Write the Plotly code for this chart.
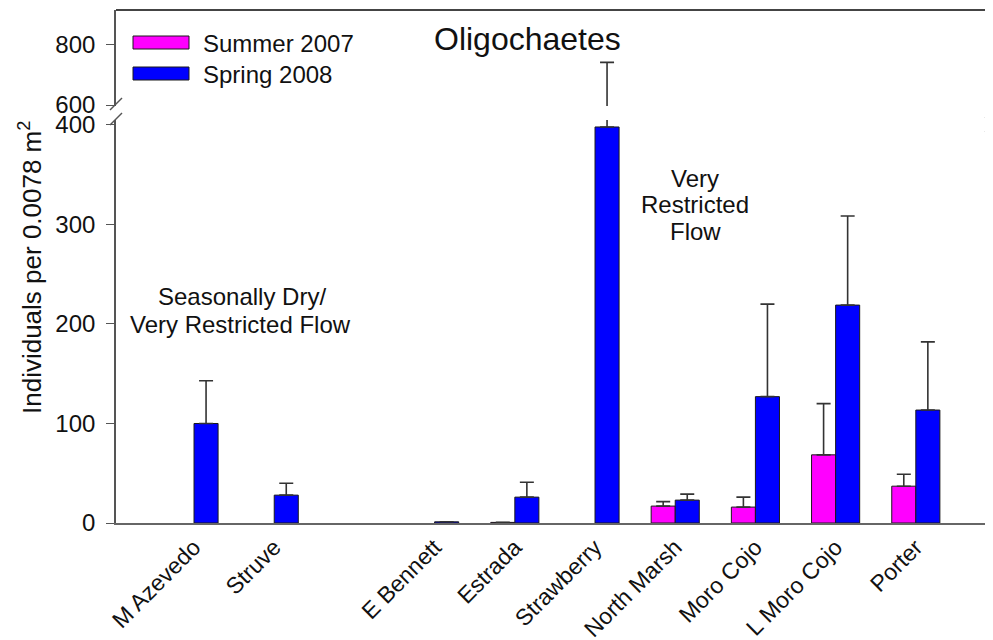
import plotly.graph_objects as go

# ---- data ----
sites = ["M Azevedo", "Struve", " ", "E Bennett", "Estrada", "Strawberry",
         "North Marsh", "Moro Cojo", "L Moro Cojo", "Porter"]
summer_2007 = [None, None, None, None, 0.6, None, 17, 16, 68.5, 37]
summer_2007_err = [None, None, None, None, None, None, 4.5, 10, 51.5, 12]
spring_2008 = [100, 28, None, 1.2, 26, 398, 23, 127, 219, 113.5]
spring_2008_err = [43, 12, None, None, 15, 342, 6, 93, 89.5, 68.5]
lower_ticks = [0, 100, 200, 300, 400]
upper_ticks = [600, 800]

PINK = "#FF00FF"
BLUE = "#0000FF"
EDGE = "#1a1a1a"
ERRC = "#333333"
FONT = "Liberation Sans, Arial, sans-serif"

# page body adds an 8px offset; target pixel positions are in screen coords
OFF = 8
W, H = 993, 640
PL, PR, PT, PB = 116, 990, 10, 523   # plot area in screen pixels
ML, MR, MT, MB = PL - OFF, W + OFF - PR, PT - OFF, H + OFF - PB
PW = PR - PL
PH = PB - PT


def px_x(p):
    return (p - PL) / PW


def px_y(p):
    return (PB - p) / PH


fig = go.Figure()


def add_pair(xa, ya):
    fig.add_trace(go.Bar(
        x=sites, y=summer_2007, name="Summer 2007", xaxis=xa, yaxis=ya,
        marker=dict(color=PINK, line=dict(color=EDGE, width=1)),
        error_y=dict(type="data", array=summer_2007_err, arrayminus=[0] * len(sites),
                     symmetric=False, color=ERRC, thickness=1.6, width=7),
        showlegend=False))
    fig.add_trace(go.Bar(
        x=sites, y=spring_2008, name="Spring 2008", xaxis=xa, yaxis=ya,
        marker=dict(color=BLUE, line=dict(color=EDGE, width=1)),
        error_y=dict(type="data", array=spring_2008_err, arrayminus=[0] * len(sites),
                     symmetric=False, color=ERRC, thickness=1.6, width=7),
        showlegend=False))


add_pair("x", "y")
add_pair("x2", "y2")

low_top = px_y(120)
up_bot = px_y(106)
xr = [-0.973, 9.925]
named_sites = [s for s in sites if s.strip()]

fig.update_layout(
    width=W, height=H,
    margin=dict(l=ML, r=MR, t=MT, b=MB, autoexpand=False),
    plot_bgcolor="white", paper_bgcolor="white",
    barmode="group", bargap=0.4, bargroupgap=0,
    font=dict(family=FONT, color="#111", size=22),
    xaxis=dict(domain=[0, 1], anchor="y", type="category", categoryorder="array",
               categoryarray=sites, range=xr, showline=True, linecolor="#666",
               linewidth=1.6, ticks="", tickangle=-45, showgrid=False,
               tickvals=named_sites, ticktext=named_sites, automargin=False,
               tickfont=dict(size=23, family=FONT, color="#111")),
    xaxis2=dict(domain=[0, 1], anchor="y2", matches="x", type="category",
                range=xr, showline=False, showticklabels=False, ticks="",
                showgrid=False),
    yaxis=dict(domain=[0, low_top], range=[0, 405], tickvals=lower_ticks,
               showline=True, linecolor="#555", linewidth=1.6, ticks="outside",
               ticklen=8, tickcolor="#555", tickwidth=1.4, showgrid=False,
               zeroline=False, ticklabelstandoff=6, automargin=False,
               tickfont=dict(size=24, family=FONT, color="#111")),
    yaxis2=dict(domain=[up_bot, 1], range=[597, 912], tickvals=upper_ticks,
                showline=True, linecolor="#555", linewidth=1.6, ticks="outside",
                ticklen=8, tickcolor="#555", tickwidth=1.4, showgrid=False,
                zeroline=False, ticklabelstandoff=6, automargin=False,
                tickfont=dict(size=24, family=FONT, color="#111")),
)

shapes = []
# top frame line
shapes.append(dict(type="line", xref="paper", yref="paper", x0=0, x1=px_x(1001), y0=1, y1=1,
                   line=dict(color="#444", width=2)))
# axis break marks (left)
for yc in (104, 119):
    shapes.append(dict(type="line", xref="paper", yref="paper",
                       x0=px_x(110), x1=px_x(122), y0=px_y(yc + 6), y1=px_y(yc - 6),
                       line=dict(color="#555", width=1.4)))
# axis break marks (right)
for yc in (114, 128):
    shapes.append(dict(type="line", xref="paper", yref="paper",
                       x0=px_x(985), x1=px_x(993), y0=px_y(yc + 4), y1=px_y(yc - 4),
                       line=dict(color="#777", width=1.2)))
# legend swatches
shapes.append(dict(type="rect", xref="paper", yref="paper",
                   x0=px_x(133), x1=px_x(189), y0=px_y(49), y1=px_y(36),
                   fillcolor=PINK, line=dict(color=EDGE, width=1)))
shapes.append(dict(type="rect", xref="paper", yref="paper",
                   x0=px_x(133), x1=px_x(189), y0=px_y(80), y1=px_y(67),
                   fillcolor=BLUE, line=dict(color=EDGE, width=1)))
fig.update_layout(shapes=shapes)

ann = []


def text(t, xp, yp, size, xanchor="center", angle=0):
    ann.append(dict(text=t, xref="paper", yref="paper", x=px_x(xp), y=px_y(yp),
                    xanchor=xanchor, yanchor="middle", showarrow=False,
                    textangle=angle, font=dict(size=size, family=FONT, color="#111")))


text("Summer 2007", 201, 43, 24, xanchor="left")
text("Spring 2008", 201, 74, 24, xanchor="left")
text("Oligochaetes", 527, 39, 32)
text("Individuals per 0.0078 m<sup>2</sup>", 30, 268, 26, angle=-90)
text("Seasonally Dry/", 242, 296, 24)
text("Very Restricted Flow", 240, 324, 24)
text("Very", 695, 178, 24)
text("Restricted", 695, 204, 24)
text("Flow", 695, 231, 24)
fig.update_layout(annotations=ann)

fig.write_html("out.html")
